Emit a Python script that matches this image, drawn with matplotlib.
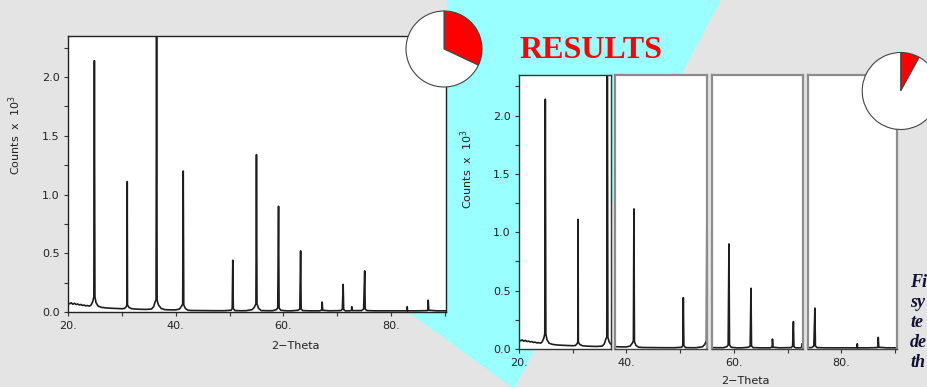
import matplotlib
matplotlib.use("Agg")
import matplotlib.pyplot as plt
from matplotlib.patches import Polygon

# ---------------- data (counts in units of 10^3) ----------------
two_theta = [
    20.0, 20.3, 20.6, 20.9, 21.2, 21.5, 21.8, 22.1, 22.4, 22.7, 23.0, 23.3, 23.6, 24.0,
    24.3, 24.6, 24.8, 24.9, 25.0, 25.2, 25.6, 26.2,
    27.0, 28.0, 29.0, 30.0, 30.5,
    30.8, 30.95, 31.0, 31.05, 31.3, 31.8,
    32.5, 33.5, 34.5, 35.5,
    35.9, 36.2, 36.35, 36.45, 36.55, 36.8, 37.3,
    38.0, 39.0, 40.0, 40.7,
    41.1, 41.3, 41.4, 41.5, 41.8, 42.3,
    43.0, 45.0, 47.0, 49.0, 50.3,
    50.5, 50.6, 50.7, 51.0,
    52.0, 53.0, 54.2,
    54.6, 54.9, 55.0, 55.1, 55.4, 55.9,
    57.0, 58.0, 58.7,
    58.95, 59.1, 59.2, 59.5,
    60.5, 61.5, 62.7,
    63.05, 63.2, 63.3, 63.6,
    65.0, 66.8,
    67.15, 67.2, 67.3,
    68.5, 70.7,
    70.95, 71.1, 71.2, 71.5,
    72.4,
    72.65, 72.7, 72.8,
    74.5,
    74.9, 75.1, 75.2, 75.5,
    77.0, 80.0, 82.8,
    82.95, 83.0, 83.05,
    85.0, 86.7,
    86.85, 86.9, 87.0,
    88.5, 90.5,
]
counts = [
    0.080, 0.070, 0.078, 0.066, 0.074, 0.064, 0.068, 0.060, 0.064, 0.056, 0.059, 0.052, 0.055, 0.050,
    0.060, 0.090, 0.130, 2.140, 0.130, 0.080, 0.050, 0.040,
    0.035, 0.032, 0.030, 0.028, 0.030,
    0.045, 0.060, 1.110, 0.060, 0.040, 0.028,
    0.025, 0.023, 0.022, 0.025,
    0.045, 0.090, 0.100, 2.600, 0.100, 0.060, 0.030,
    0.020, 0.018, 0.018, 0.025,
    0.050, 0.070, 1.200, 0.060, 0.030, 0.015,
    0.013, 0.012, 0.011, 0.011, 0.015,
    0.030, 0.440, 0.030, 0.012,
    0.011, 0.011, 0.020,
    0.040, 0.070, 1.340, 0.070, 0.030, 0.012,
    0.011, 0.011, 0.020,
    0.035, 0.900, 0.035, 0.015,
    0.010, 0.010, 0.015,
    0.025, 0.520, 0.025, 0.012,
    0.010, 0.010,
    0.020, 0.085, 0.015,
    0.010, 0.012,
    0.025, 0.235, 0.020, 0.010,
    0.010,
    0.015, 0.045, 0.012,
    0.012,
    0.025, 0.350, 0.025, 0.012,
    0.010, 0.010, 0.010,
    0.010, 0.045, 0.010,
    0.010, 0.012,
    0.015, 0.100, 0.015,
    0.010, 0.010,
]

x_major = [20, 40, 60, 80]
x_minor = [30, 50, 70, 90]
y_major = [0.0, 0.5, 1.0, 1.5, 2.0]
y_minor = [0.25, 0.75, 1.25, 1.75, 2.25]

panel_ranges = [(20.0, 37.07), (37.97, 55.07), (56.0, 72.96), (73.76, 90.33)]
pie1_fracs = [0.32, 0.68]
pie2_fracs = [0.08, 0.92]

side_lines = ["Fi", "sy", "te", "de", "th"]

# ---------------- layout helpers ----------------
W, H = 927, 387
fig = plt.figure(figsize=(W / 100, H / 100), dpi=100, facecolor="#e4e4e4")


def box(x0, y0, x1, y1):
    return [x0 / W, 1 - y1 / H, (x1 - x0) / W, (y1 - y0) / H]


def fp(x, y):
    return (x / W, 1 - y / H)


# cyan background shape
cyan = Polygon([fp(447, -2), fp(722, -2), fp(514, 389), fp(400, 306), fp(447, 306)],
               closed=True, transform=fig.transFigure, facecolor="#99ffff",
               edgecolor="none", zorder=-5)
fig.add_artist(cyan)

LINE = "#1e1e1e"
TXT = "#222222"


def style_axes(ax, xlo, xhi, show_y, spine_color, spine_lw):
    ax.plot(two_theta, counts, color=LINE, lw=1.2)
    ax.set_xlim(xlo, xhi)
    ax.set_ylim(0, 2.35)
    ax.set_facecolor("white")
    ax.set_xticks([v for v in x_major if xlo - 0.01 <= v <= xhi])
    ax.set_xticklabels([f"{v}." for v in x_major if xlo - 0.01 <= v <= xhi])
    ax.set_xticks([v for v in x_minor if xlo <= v <= xhi], minor=True)
    if show_y:
        ax.set_yticks(y_major)
        ax.set_yticklabels([f"{v:.1f}" for v in y_major])
        ax.set_yticks(y_minor, minor=True)
    else:
        ax.set_yticks([])
        ax.set_yticks([], minor=True)
    ax.tick_params(which="both", direction="out", length=3.2, width=0.8,
                   color="#333333", labelsize=8, labelcolor=TXT, pad=3)
    for s in ax.spines.values():
        s.set_color(spine_color)
        s.set_linewidth(spine_lw)


# left chart
axL = fig.add_axes(box(68, 36, 446, 312))
style_axes(axL, 20, 90.2, True, "#222222", 1.0)
fig.text(*fp(15, 135), "Counts  x  10$^3$", rotation=90, ha="center", va="center",
         fontsize=8, color=TXT)
fig.text(*fp(295, 346), "2\u2212Theta", ha="center", va="center", fontsize=8, color=TXT)

# right chart: four panels on one continuous scale
X20, PX = 519.0, 5.37
for i, (lo, hi) in enumerate(panel_ranges):
    px0 = X20 + (lo - 20) * PX
    px1 = X20 + (hi - 20) * PX
    ax = fig.add_axes(box(px0, 74.7, px1, 349))
    if i == 0:
        style_axes(ax, lo, hi, True, "#333333", 1.0)
    else:
        style_axes(ax, lo, hi, False, "#8c8c8c", 1.6)
        ax.spines["bottom"].set_color("#444444")
        ax.spines["bottom"].set_linewidth(1.0)
fig.text(*fp(467, 169), "Counts  x  10$^3$", rotation=90, ha="center", va="center",
         fontsize=8, color=TXT)
fig.text(*fp(745, 381), "2\u2212Theta", ha="center", va="center", fontsize=8, color=TXT)

# title
fig.text(*fp(519, 58), "RESULTS", ha="left", va="baseline", color="red",
         fontsize=23, fontweight="bold", family="Liberation Serif")

# side caption fragments
for k, s in enumerate(side_lines):
    fig.text(*fp(910, 287 + 20 * k), s, ha="left", va="baseline", fontsize=13,
             fontweight="bold", style="italic", family="Liberation Serif", color="#111133")


# pies
def add_pie(cx, cy, r, fracs):
    a = fig.add_axes(box(cx - r, cy - r, cx + r, cy + r))
    wedges, _ = a.pie(fracs, colors=["red", "white"], startangle=90, counterclock=False,
                      wedgeprops=dict(edgecolor="#444444", linewidth=0.8))
    for w in wedges:
        w.set_clip_on(False)
    a.set_aspect("equal")
    a.set_xlim(-1, 1)
    a.set_ylim(-1, 1)
    a.axis("off")


add_pie(444, 49, 38, pie1_fracs)
add_pie(900.7, 91, 38.5, pie2_fracs)

fig.savefig("out.png", dpi=100, facecolor=fig.get_facecolor())
